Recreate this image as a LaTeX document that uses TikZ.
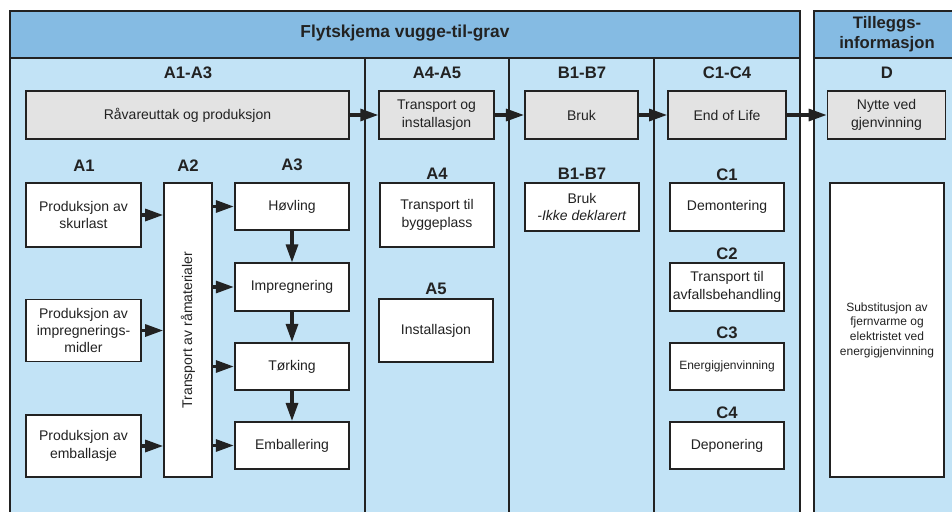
\documentclass[tikz,border=0pt]{standalone}
\usepackage{fontspec}
\setmainfont{Liberation Sans}
\usetikzlibrary{arrows.meta}
\definecolor{hodeblaa}{HTML}{85BBE3}
\definecolor{lysblaa}{HTML}{C2E3F6}
\definecolor{boksgraa}{HTML}{E3E3E3}
\definecolor{strek}{HTML}{222222}

\begin{document}
\begin{tikzpicture}[x=0.75pt,y=-0.75pt,
	tittel/.style={font=\bfseries\fontsize{12.5}{15}\selectfont,text=strek},
	boks/.style={draw=strek,line width=1.3pt,fill=white,align=center,inner sep=1pt,
		text=strek,font=\fontsize{10.5}{13}\selectfont,minimum width=86pt,minimum height=35.5pt},
	graa/.style={boks,fill=boksgraa},
	liten/.style={font=\fontsize{9}{11}\selectfont},
	ramme/.style={draw=strek,line width=1.4pt},
	pil/.style={-{Triangle[length=13.5pt,width=9pt]},line width=2.3pt,color=strek}]
\useasboundingbox (0,0) rectangle (952,511);
% rammer
\begin{scope}
\clip (0,0) rectangle (952,511);
\filldraw[ramme,fill=lysblaa] (10,11) rectangle (800,530);
\filldraw[ramme,fill=hodeblaa] (10,11) rectangle (800,58);
\filldraw[ramme,fill=lysblaa] (814,11) rectangle (970,530);
\filldraw[ramme,fill=hodeblaa] (814,11) rectangle (970,58);
\foreach \x in {365,509,654}
	\draw[strek,line width=1.1pt] (\x,58) -- (\x,530);
\end{scope}

\node[tittel,font=\bfseries\fontsize{13}{15}\selectfont] (hode) at (405,33) {Flytskjema vugge-til-grav};
\node[tittel,align=center] (tillegg) at (887,34) {Tilleggs-\\informasjon};
\node[tittel] (la13) at (188,73) {A1-A3};
\node[tittel] (la45) at (437,73) {A4-A5};
\node[tittel] (lb17) at (582,73) {B1-B7};
\node[tittel] (lc14) at (727,73) {C1-C4};
\node[tittel] (ld) at (887,73) {D};

% hovedfaser
\node[graa,minimum width=242.5pt] (raa) at (187.5,115) {Råvareuttak og produksjon};
\node[graa] (tog) at (436.5,115) {Transport og\\installasjon};
\node[graa,minimum width=85pt] (bruk) at (581.5,115) {Bruk};
\node[graa,minimum width=88.5pt] (eol) at (727,115) {End of Life};
\node[graa,minimum width=88.5pt] (nytte) at (886.5,115) {Nytte ved\\gjenvinning};

% A1-A3
\node[tittel] (la1) at (84,166) {A1};
\node[tittel] (la2) at (188,166) {A2};
\node[tittel] (la3) at (292,165) {A3};
\node[boks,minimum height=48pt] (p1) at (83.5,215) {Produksjon av\\skurlast};
\node[boks,minimum height=46.5pt] (p2) at (83.5,330.5) {Produksjon av\\impregnerings-\\midler};
\node[boks,minimum height=46.5pt] (p3) at (83.5,446) {Produksjon av\\emballasje};
\node[boks,minimum width=36pt,minimum height=220.5pt] (a2) at (188,330) {\rotatebox{90}{Transport av råmaterialer}};
\node[boks] (h1) at (292,206.5) {Høvling};
\node[boks] (h2) at (292,287) {Impregnering};
\node[boks] (h3) at (292,366.5) {Tørking};
\node[boks] (h4) at (292,445.5) {Emballering};

% A4-A5
\node[tittel] (la4) at (437,174) {A4};
\node[boks,minimum height=48pt] (a4) at (437,215) {Transport til\\byggeplass};
\node[tittel] (la5) at (436,289) {A5};
\node[boks,minimum height=47pt] (a5) at (436,330.5) {Installasjon};

% B1-B7
\node[tittel] (lb) at (582,174) {B1-B7};
\node[boks] (b) at (582,207) {Bruk\\\textit{-Ikke deklarert}};

% C1-C4
\node[tittel] (lc1) at (727,175) {C1};
\node[boks] (c1) at (727,207) {Demontering};
\node[tittel] (lc2) at (727,254) {C2};
\node[boks] (c2) at (727,287) {Transport til\\avfallsbehandling};
\node[tittel] (lc3) at (727,333) {C3};
\node[boks,liten] (c3) at (727,366.5) {Energigjenvinning};
\node[tittel] (lc4) at (727,413) {C4};
\node[boks] (c4) at (727,445.5) {Deponering};

% D
\node[boks,liten,minimum height=220.5pt] (d) at (887,330) {Substitusjon av\\fjernvarme og\\elektristet ved\\energigjenvinning};

\path[pil]
(raa) edge (tog)
(tog) edge (bruk)
(bruk) edge (eol)
(eol) edge (nytte)
(p1.east) edge (a2.west |- p1.east)
(p2.east) edge (a2.west |- p2.east)
(p3.east) edge (a2.west |- p3.east)
(a2.east |- h1.west) edge (h1.west)
(a2.east |- h2.west) edge (h2.west)
(a2.east |- h3.west) edge (h3.west)
(a2.east |- h4.west) edge (h4.west)
(h1) edge (h2)
(h2) edge (h3)
(h3) edge (h4)
;
\end{tikzpicture}
\end{document}
